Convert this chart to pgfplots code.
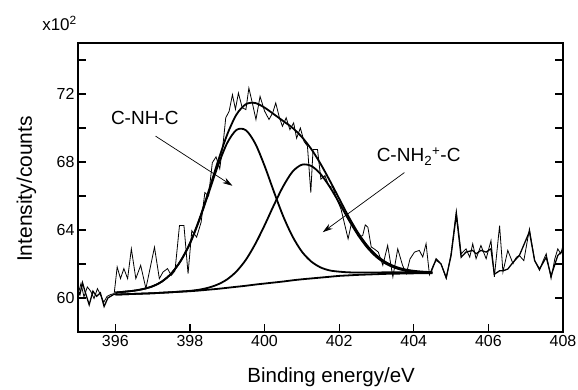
\documentclass[border=0pt]{standalone}
\usepackage{fontspec}
\setmainfont{Liberation Sans}
\usepackage{pgfplots}
\usepackage{pgfplotstable}
\pgfplotsset{compat=1.18}
\usetikzlibrary{arrows.meta}

\pgfplotstableread{
x B P1 P2 Env
396.00 60.20 60.32 60.20 60.32
396.25 60.22 60.37 60.22 60.37
396.50 60.24 60.43 60.24 60.43
396.75 60.26 60.53 60.26 60.53
397.00 60.28 60.69 60.28 60.69
397.25 60.31 60.97 60.31 60.97
397.50 60.34 61.44 60.34 61.44
397.75 60.37 62.17 60.38 62.18
398.00 60.40 63.20 60.42 63.22
398.25 60.44 64.57 60.49 64.62
398.50 60.49 66.16 60.61 66.28
398.75 60.54 67.77 60.80 68.03
399.00 60.60 69.12 61.10 69.62
399.25 60.66 69.89 61.57 70.80
399.50 60.72 69.87 62.25 71.40
399.75 60.79 69.09 63.17 71.47
400.00 60.85 67.78 64.27 71.20
400.25 60.91 66.26 65.46 70.81
400.50 60.97 64.81 66.57 70.41
400.75 61.04 63.62 67.43 70.01
401.00 61.10 62.73 67.84 69.47
401.25 61.15 62.15 67.77 68.77
401.50 61.20 61.80 67.30 67.90
401.75 61.25 61.62 66.53 66.90
402.00 61.30 61.55 65.60 65.85
402.25 61.33 61.51 64.62 64.80
402.50 61.36 61.50 63.72 63.86
402.75 61.38 61.50 62.97 63.09
403.00 61.40 61.50 62.41 62.51
403.25 61.42 61.51 62.02 62.11
403.50 61.43 61.51 61.77 61.85
403.75 61.44 61.51 61.62 61.69
404.00 61.45 61.51 61.54 61.60
404.25 61.45 61.51 61.49 61.55
404.50 61.45 61.50 61.47 61.52
}\fits

\pgfplotstableread{
x y
394.95 60.95
395.02 60.36
395.08 60.85
395.16 60.07
395.25 60.65
395.34 60.40
395.43 59.97
395.52 60.55
395.60 60.20
395.69 59.75
395.78 60.10
395.87 60.20
395.97 60.26
396.05 61.82
396.14 61.14
396.23 61.73
396.33 61.14
396.43 62.89
396.55 61.14
396.68 61.92
396.82 60.56
397.05 62.99
397.18 61.14
397.28 61.53
397.40 61.73
397.50 61.33
397.60 61.60
397.72 64.26
397.84 64.26
397.95 61.43
398.05 63.96
398.18 63.58
398.30 64.46
398.40 66.20
398.50 66.00
398.60 67.96
398.70 68.30
398.80 67.60
398.90 69.30
398.96 70.60
399.05 70.98
399.14 71.96
399.22 71.10
399.30 72.06
399.40 71.20
399.50 71.08
399.58 72.35
399.68 71.40
399.77 70.50
399.88 71.86
400.00 71.00
400.12 70.50
400.22 70.90
400.30 71.47
400.40 70.60
400.48 70.10
400.58 70.60
400.68 69.90
400.78 70.30
400.86 69.40
400.96 70.00
401.06 69.20
401.15 68.94
401.24 66.20
401.30 68.74
401.42 68.74
401.51 66.99
401.62 67.20
401.72 66.60
401.83 66.50
401.94 65.80
402.05 65.23
402.14 64.40
402.24 63.48
402.33 64.40
402.41 64.16
402.52 63.60
402.63 63.67
402.70 64.30
402.77 64.16
402.86 63.00
402.94 62.89
403.05 62.70
403.17 61.92
403.30 63.09
403.44 61.24
403.57 62.89
403.70 61.92
403.80 61.43
403.90 62.30
404.02 62.70
404.15 62.80
404.24 62.41
404.33 63.19
404.42 61.37
404.52 61.90
404.60 62.21
404.73 62.02
404.87 61.14
405.00 62.60
405.14 65.13
405.27 62.60
405.40 62.89
405.50 62.40
405.58 63.19
405.67 62.31
405.80 63.09
405.94 62.31
406.07 63.38
406.16 61.24
406.30 64.26
406.39 61.53
406.52 62.80
406.66 62.02
406.75 62.40
406.83 62.50
406.95 62.20
407.10 64.06
407.24 62.21
407.37 61.63
407.45 62.10
407.55 62.60
407.68 61.14
407.78 62.30
407.86 62.89
407.94 62.60
408.00 63.09
}\raw

\pgfplotstableread{
x y
394.95 60.60
395.05 60.20
395.12 60.90
395.20 60.30
395.30 59.60
395.40 60.40
395.50 60.10
395.60 60.30
395.70 59.50
395.80 60.00
395.95 60.20
396.05 60.25
}\leftthick

\pgfplotstableread{
x y
404.45 61.45
404.60 62.30
404.73 62.00
404.87 61.20
405.00 62.50
405.14 64.90
405.27 62.40
405.40 62.70
405.58 62.80
405.67 62.60
405.80 62.80
405.94 62.70
406.07 62.90
406.16 61.40
406.30 61.60
406.39 61.60
406.52 61.70
406.66 62.10
406.83 62.50
407.10 63.90
407.24 62.20
407.37 61.70
407.55 62.40
407.68 61.30
407.86 62.50
408.00 62.80
}\rightthick

\begin{document}
\begin{tikzpicture}
\begin{axis}[
  name=ax,
  width=485pt, height=289pt, scale only axis,
  xmin=395, xmax=408, ymin=58, ymax=75,
  xtick={396,398,...,408},
  ytick={60,64,68,72},
  minor ytick={58,62,66,70,74},
  tick align=inside,
  xtick pos=left,
  major tick length=8pt, minor tick length=8pt,
  every tick/.style={black, line width=1.2pt},
  axis line style={line width=1.2pt},
  /pgf/number format/assume math mode=true,
  ticklabel style={font=\fontsize{16}{16}\selectfont},
  xlabel={Binding energy/eV},
  ylabel={Intensity/counts},
  xlabel style={font=\fontsize{20.5}{20.5}\selectfont, at={(axis description cs:0.522,0)}, anchor=base, yshift=-51pt},
  ylabel style={font=\fontsize{21}{21}\selectfont, at={(axis description cs:0,0.495)}, anchor=base, yshift=46pt},
  clip=true,
]
\addplot[black, line width=0.8pt] table[x=x,y=y] {\raw};
\addplot[black, line width=1.3pt] table[x=x,y=y] {\leftthick};
\addplot[black, line width=1.3pt] table[x=x,y=y] {\rightthick};
\addplot[black, line width=1.8pt, smooth] table[x=x,y=B] {\fits};
\addplot[black, line width=1.8pt, smooth] table[x=x,y=P1] {\fits};
\addplot[black, line width=1.8pt, smooth] table[x=x,y=P2] {\fits};
\addplot[black, line width=1.8pt, smooth] table[x=x,y=Env] {\fits};

\node[font=\fontsize{19}{19}\selectfont] at (axis cs:396.79,70.61) {C-NH-C};
\draw[black, line width=0.7pt, -{Stealth[length=10pt,width=6pt]}] (axis cs:397.08,69.52) -- (axis cs:399.14,66.6);
\node[font=\fontsize{19}{19}\selectfont] at (axis cs:404.13,68.33) {C-NH\textsubscript{2}\textsuperscript{+}-C};
\draw[black, line width=0.7pt, -{Stealth[length=10pt,width=6pt]}] (axis cs:403.75,67.38) -- (axis cs:401.56,63.87);
\end{axis}
\node[anchor=base east, inner sep=0pt, font=\fontsize{17}{17}\selectfont] at ([xshift=-1pt,yshift=12pt]ax.north west) {x10\textsuperscript{2}};
\pgfresetboundingbox
\path[use as bounding box] ([xshift=-78pt,yshift=-58pt]ax.south west) rectangle ([xshift=15pt,yshift=43pt]ax.north east);
\end{tikzpicture}
\end{document}
